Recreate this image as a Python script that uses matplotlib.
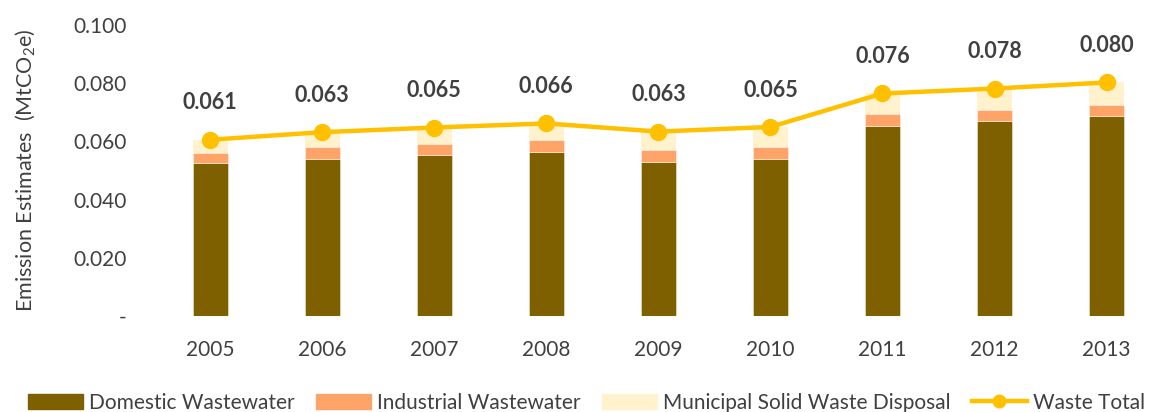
import matplotlib
matplotlib.use("Agg")
import matplotlib.pyplot as plt
import numpy as np
from matplotlib.lines import Line2D
from matplotlib.patches import Patch

years = ["2005", "2006", "2007", "2008", "2009", "2010", "2011", "2012", "2013"]
domestic = [0.0526, 0.0540, 0.0553, 0.0564, 0.0530, 0.0540, 0.0654, 0.0670, 0.0688]
industrial = [0.0034, 0.0040, 0.0037, 0.0041, 0.0040, 0.0040, 0.0040, 0.0038, 0.0037]
total = [0.0606, 0.0632, 0.0648, 0.0662, 0.0634, 0.0650, 0.0765, 0.0782, 0.0803]
msw = [t - d - i for t, d, i in zip(total, domestic, industrial)]
yticks = [0.0, 0.02, 0.04, 0.06, 0.08, 0.10]
ytick_labels = ["-", "0.020", "0.040", "0.060", "0.080", "0.100"]

plt.rcParams['font.family'] = ['Lato', 'DejaVu Sans']
plt.rcParams['mathtext.fontset'] = 'custom'
plt.rcParams['mathtext.rm'] = 'Lato'
plt.rcParams['mathtext.it'] = 'Lato'

txt = '#404040'
fig = plt.figure(figsize=(11.5, 4.12), dpi=100)
ax = fig.add_axes([0.134, 0.233, 0.877, 0.706])
x = np.arange(len(years))
w = 0.31
c_dom, c_ind, c_msw, c_tot = '#7F6000', '#FFA468', '#FFF2CC', '#FFC000'
ax.bar(x, domestic, w, color=c_dom, edgecolor='#F5EBD0', linewidth=0.4)
ax.bar(x, industrial, w, bottom=domestic, color=c_ind, edgecolor='#FFF2E6', linewidth=0.4)
bot2 = [d + i for d, i in zip(domestic, industrial)]
ax.bar(x, msw, w, bottom=bot2, color=c_msw, edgecolor='none')
ax.plot(x, total, color=c_tot, linewidth=3.2, marker='o', markersize=11.5, zorder=5)
for xi, t in zip(x, total):
    ax.annotate(f"{t:.3f}", (xi, t), xytext=(0, 19), textcoords='offset points',
                ha='center', va='bottom', fontsize=15.5, fontweight='bold', color=txt)

ax.set_xlim(-0.5, 8.5)
ax.set_ylim(0, 0.1)
ax.set_xticks(x)
ax.set_xticklabels(years)
ax.set_yticks(yticks)
ax.set_yticklabels(ytick_labels)
ax.tick_params(axis='x', length=0, pad=17, labelsize=15, labelcolor=txt)
ax.tick_params(axis='y', length=0, pad=20, labelsize=15, labelcolor=txt)
for s in ax.spines.values():
    s.set_visible(False)
ax.set_ylabel(r'Emission Estimates  (MtCO$_2$e)', fontsize=15.5, color=txt)
ax.yaxis.set_label_coords(-0.116, 0.5)

handles = [Patch(color=c_dom), Patch(color=c_ind), Patch(color=c_msw),
           Line2D([0], [0], color=c_tot, linewidth=3.2, marker='o', markersize=9)]
labels = ["Domestic Wastewater", "Industrial Wastewater", "Municipal Solid Waste Disposal", "Waste Total"]
fig.legend(handles, labels, loc='center', bbox_to_anchor=(0.510, 0.022), ncol=4, frameon=False,
           fontsize=15, labelcolor=txt, handlelength=2.65, handleheight=0.75,
           handletextpad=0.3, columnspacing=1.0, borderpad=0.2)

fig.savefig("out.png", dpi=100)
